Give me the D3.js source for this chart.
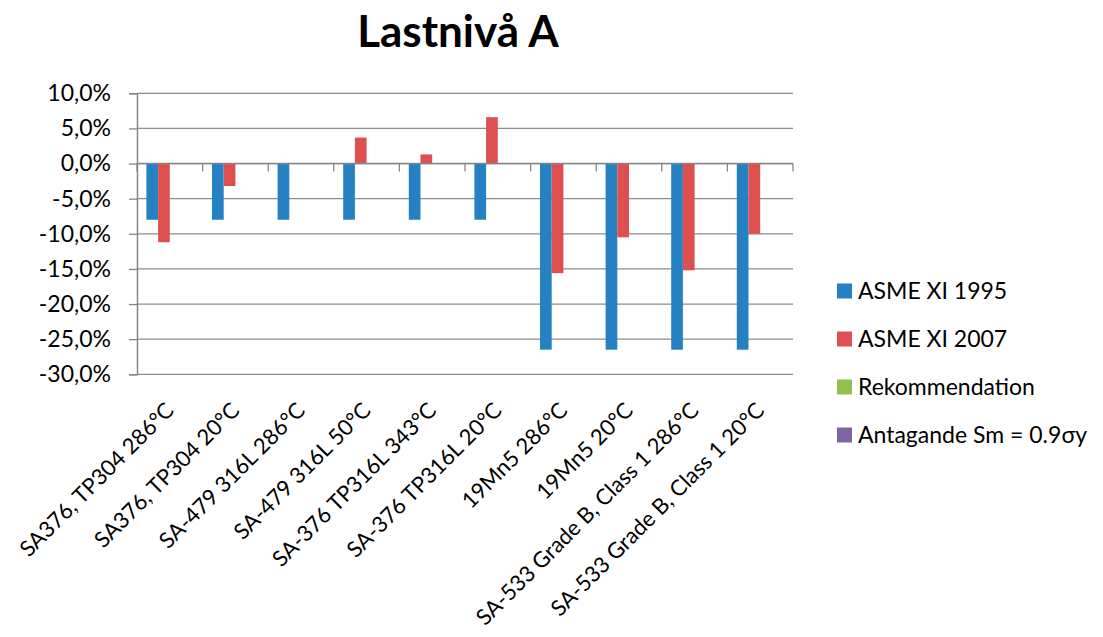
<!DOCTYPE html>
<html><head><meta charset="utf-8">
<script src="https://cdn.jsdelivr.net/npm/d3@7"></script>
<style>
html,body{margin:0;padding:0;background:#fff;}
text{font-family:"Lato","Liberation Sans",sans-serif;fill:#000;}
</style></head>
<body>
<svg id="chart" width="1103" height="637"></svg>
<script>
const title = "Lastnivå A";
const categories = ["SA376, TP304 286°C","SA376, TP304 20°C","SA-479 316L 286°C","SA-479 316L 50°C","SA-376 TP316L 343°C","SA-376 TP316L 20°C","19Mn5 286°C","19Mn5 20°C","SA-533 Grade B, Class 1 286°C","SA-533 Grade B, Class 1 20°C"];
const seriesNames = ["ASME XI 1995","ASME XI 2007","Rekommendation","Antagande Sm = 0.9σy"];
const seriesColors = ["#2681c2","#de5050","#92c04f","#8064a2"];
const asme1995 = [-0.080,-0.080,-0.080,-0.080,-0.080,-0.080,-0.265,-0.265,-0.265,-0.265];
const asme2007 = [-0.112,-0.032,0.000,0.037,0.013,0.066,-0.156,-0.105,-0.152,-0.100];
const rekommendation = [null,null,null,null,null,null,null,null,null,null];
const antagande = [null,null,null,null,null,null,null,null,null,null];
const yTicks = [0.10,0.05,0,-0.05,-0.10,-0.15,-0.20,-0.25,-0.30];

const seriesValues = [asme1995, asme2007, rekommendation, antagande];

const svg = d3.select("#chart");
const L = 137, R = 793, T = 93.3, B = 374.3;

const locale = d3.formatLocale({decimal:",", thousands:" ", grouping:[3], currency:["",""], minus:"-"});
const fmt = locale.format(".1%");

const y = d3.scaleLinear().domain([-0.30,0.10]).range([B,T]);
const x0 = d3.scaleBand().domain(categories).range([L,R]).paddingInner(0.2866).paddingOuter(0.1433);
const x1 = d3.scaleBand().domain(d3.range(seriesNames.length)).range([0,x0.bandwidth()]);

// title
svg.append("text").attr("x",458).attr("y",47).attr("text-anchor","middle")
  .style("font-weight","bold").style("font-size","44px").text(title);

// gridlines
svg.append("g").selectAll("line").data(yTicks).join("line")
  .attr("x1",L).attr("x2",R).attr("y1",d=>y(d)).attr("y2",d=>y(d))
  .attr("stroke","#8c8c8c").attr("stroke-width",1.3);

// y axis
const yAxis = svg.append("g").attr("transform",`translate(${L},0)`)
  .call(d3.axisLeft(y).tickValues(yTicks).tickFormat(fmt).tickSize(8).tickPadding(18));
yAxis.select(".domain").attr("stroke","#868686").attr("stroke-width",1.5);
yAxis.selectAll(".tick line").attr("stroke","#868686").attr("stroke-width",1.3);
yAxis.selectAll("text").style("font-size","23px").style("font-family","Lato, sans-serif").attr("fill","#000");

// bars
const rows = [];
seriesValues.forEach((arr,si)=>arr.forEach((v,ci)=>{ if(v!==null) rows.push({si,ci,v}); }));
svg.append("g").selectAll("rect").data(rows).join("rect")
  .attr("x",d=>x0(categories[d.ci])+x1(d.si))
  .attr("width",x1.bandwidth())
  .attr("y",d=>Math.min(y(d.v),y(0)))
  .attr("height",d=>Math.abs(y(d.v)-y(0)))
  .attr("fill",d=>seriesColors[d.si]);

// category axis at zero line
const xAxisG = svg.append("g").attr("transform",`translate(0,${y(0)})`);
xAxisG.append("line").attr("x1",L).attr("x2",R).attr("y1",0).attr("y2",0)
  .attr("stroke","#868686").attr("stroke-width",1.5);
const boundaries = categories.map(c=>x0(c)-(x0.step()-x0.bandwidth())/2);
boundaries.push(R);
xAxisG.selectAll("line.tk").data(boundaries).join("line").attr("class","tk")
  .attr("x1",d=>d).attr("x2",d=>d).attr("y1",0).attr("y2",8)
  .attr("stroke","#868686").attr("stroke-width",1.3);

// category labels at bottom, rotated
svg.append("g").selectAll("text").data(categories).join("text")
  .attr("transform",d=>`translate(${x0(d)+x0.bandwidth()/2},${B+32}) rotate(-45)`)
  .attr("text-anchor","end").attr("dy","0.35em")
  .style("font-size","22px").text(d=>d);

// legend
const leg = svg.append("g");
const legY = [291,339,387,435];
seriesNames.forEach((n,i)=>{
  leg.append("rect").attr("x",837).attr("y",legY[i]-7.5).attr("width",15).attr("height",15).attr("fill",seriesColors[i]);
  leg.append("text").attr("x",858).attr("y",legY[i]).attr("dy","0.35em").style("font-size","23px").text(n);
});
</script>
</body></html>
